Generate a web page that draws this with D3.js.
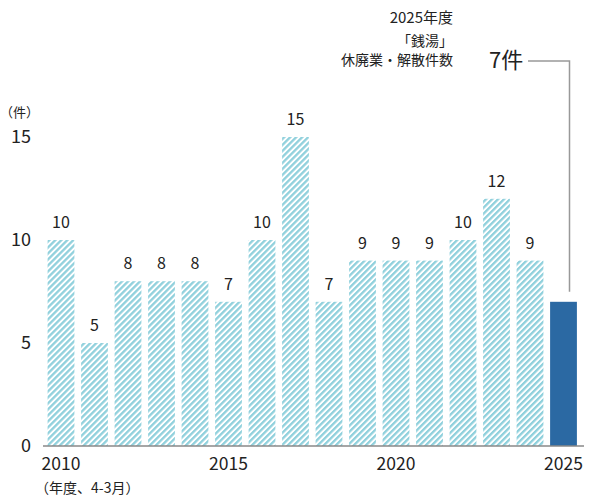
<!DOCTYPE html>
<html>
<head>
<meta charset="utf-8">
<script src="https://cdn.jsdelivr.net/npm/d3@7"></script>
<style>
  body { margin: 0; background: #fff; }
  text { font-family: "Noto Sans CJK JP", "Noto Sans", sans-serif; fill: #222; }
</style>
</head>
<body>
<script>
"use strict";
(function(){
    const years = [2010, 2011, 2012, 2013, 2014, 2015, 2016, 2017, 2018, 2019, 2020, 2021, 2022, 2023, 2024, 2025]
    const counts = [10, 5, 8, 8, 8, 7, 10, 15, 7, 9, 9, 9, 10, 12, 9, 7]
    const yTicks = [0, 5, 10, 15]
    const xTicks = [2010, 2015, 2020, 2025]
    const noteLines = ["2025年度", "「銭湯」", "休廃業・解散件数"]

    const measurements = { width: 589, height: 499 }

    const svg = d3.select("body").append("svg")
        .attr("width", measurements.width)
        .attr("height", measurements.height)

    //hatched fill for past years
    const defs = svg.append("defs")
    const pat = defs.append("pattern")
        .attr("id", "hatch")
        .attr("patternUnits", "userSpaceOnUse")
        .attr("width", 4.24)
        .attr("height", 4.24)
        .attr("patternTransform", "rotate(45)")
    pat.append("rect").attr("width", 4.24).attr("height", 4.24).attr("fill", "#fff")
    pat.append("rect").attr("width", 2.3).attr("height", 4.24).attr("fill", "#8fd0dc")

    const x = d3.scaleBand()
        .domain(years)
        .range([44.25, 580.25])
        .paddingInner(0.2)
        .paddingOuter(0.1)
    const y = d3.scaleLinear()
        .domain([0, 15])
        .range([446, 137])

    //bars
    svg.selectAll(".bar")
        .data(years)
        .enter()
        .append("rect")
            .attr("x", d => x(d))
            .attr("width", x.bandwidth())
            .attr("y", (d, i) => y(counts[i]))
            .attr("height", (d, i) => y(0) - y(counts[i]))
            .attr("fill", d => d === 2025 ? "#2b69a3" : "url(#hatch)")

    //value labels (not for the last year)
    svg.selectAll(".val")
        .data(years.slice(0, -1))
        .enter()
        .append("text")
            .attr("x", d => x(d) + x.bandwidth() / 2)
            .attr("y", (d, i) => y(counts[i]) - 12)
            .attr("text-anchor", "middle")
            .style("font-size", "16px")
            .text((d, i) => counts[i])

    //baseline
    svg.append("line")
        .attr("x1", 43).attr("x2", 584)
        .attr("y1", y(0)).attr("y2", y(0))
        .attr("stroke", "#888").attr("stroke-width", 1.5)

    //y tick labels
    svg.selectAll(".ytick")
        .data(yTicks)
        .enter()
        .append("text")
            .attr("x", 31)
            .attr("y", d => y(d))
            .attr("dy", "0.35em")
            .attr("text-anchor", "end")
            .style("font-size", "18px")
            .text(d => d)
    svg.append("text")
        .attr("x", 0).attr("y", 112).attr("dy", "0.35em")
        .style("font-size", "13px")
        .text("（件）")

    //x tick labels
    svg.selectAll(".xtick")
        .data(xTicks)
        .enter()
        .append("text")
            .attr("x", d => x(d) + x.bandwidth() / 2)
            .attr("y", 464)
            .attr("dy", "0.35em")
            .attr("text-anchor", "middle")
            .style("font-size", "17.5px")
            .text(d => d)
    svg.append("text")
        .attr("x", 35).attr("y", 488).attr("dy", "0.35em")
        .style("font-size", "14px")
        .text("（年度、4-3月）")

    //annotation for 2025
    svg.selectAll(".note")
        .data(noteLines)
        .enter()
        .append("text")
            .attr("x", 453)
            .attr("y", (d, i) => [18, 41, 60][i])
            .attr("dy", "0.35em")
            .attr("text-anchor", "end")
            .style("font-size", (d, i) => i === 0 ? "15px" : "14px")
            .text(d => d)
    svg.append("text")
        .attr("x", 489).attr("y", 60).attr("dy", "0.35em")
        .style("font-size", "22px")
        .text(counts[counts.length - 1] + "件")
    const lx = x(2025) + x.bandwidth() / 2 + 6
    svg.append("path")
        .attr("d", `M528,61H${lx}V${y(counts[counts.length - 1]) - 10}`)
        .attr("fill", "none")
        .attr("stroke", "#999")
        .attr("stroke-width", 1.5)
})()
</script>
</body>
</html>
